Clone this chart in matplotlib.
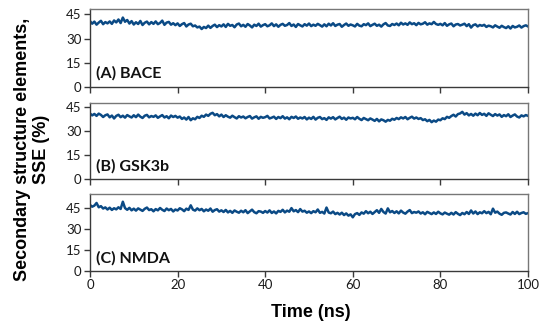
import numpy as np
import matplotlib
matplotlib.use("Agg")
import matplotlib.pyplot as plt

# time axis (ns), one value every 0.5 ns
time_ns = np.arange(0, 100.5, 0.5)

# SSE (%) values
sse_bace = [
    40.8, 39.2, 40.5, 38.6, 39.9, 41.0, 38.9, 40.2, 39.4, 40.6,
    39.1, 41.2, 40.0, 41.8, 39.6, 43.0, 40.4, 41.5, 39.3, 40.8,
    38.7, 40.1, 39.0, 40.9, 38.4, 39.8, 40.5, 38.8, 40.2, 39.1,
    40.6, 38.9, 39.7, 41.1, 38.5, 39.9, 40.3, 38.6, 39.5, 38.3,
    39.4, 37.8, 38.9, 39.6, 37.5, 38.7, 39.2, 37.6, 38.1, 36.9,
    37.4, 35.9, 37.2, 36.5, 38.0, 36.6, 37.8, 38.6, 37.1, 38.3,
    37.5, 38.8, 37.2, 39.1, 37.9, 38.4, 37.0, 38.7, 39.3, 37.6,
    38.5, 37.3, 39.0, 38.1, 36.9, 38.6, 37.8, 39.2, 37.4, 38.3,
    38.9, 37.6, 38.2, 39.4, 37.7, 38.8, 37.3, 38.5, 39.1, 37.9,
    38.4, 39.6, 37.8, 38.7, 37.2, 39.0, 38.2, 37.5, 38.9, 38.0,
    39.3, 37.7, 38.6, 37.9, 39.1, 38.3, 37.4, 38.8, 37.6, 39.2,
    38.1, 39.5, 37.8, 38.6, 39.0, 37.3, 38.4, 39.3, 37.9, 38.7,
    38.2, 37.5, 39.1, 38.0, 37.6, 38.9, 38.3, 39.4, 37.7, 38.5,
    39.2, 37.9, 38.6, 37.4, 38.8, 39.6, 38.1, 37.8, 39.0, 38.4,
    39.3, 38.2, 39.8, 38.7, 39.4, 38.5, 40.0, 38.9, 39.5, 38.3,
    39.7, 38.8, 39.2, 40.1, 38.6, 39.4, 38.9, 40.3, 39.0, 38.5,
    39.1, 38.2, 39.6, 37.9, 38.8, 39.3, 37.6, 38.7, 39.0, 38.1,
    38.6, 39.2, 37.7, 38.9, 36.8, 38.3, 38.8, 37.5, 38.4, 37.9,
    38.5, 37.2, 38.0, 37.6, 36.9, 38.2, 37.4, 36.7, 37.9, 37.1,
    36.5, 37.6, 36.2, 37.8, 36.9, 37.3, 38.1, 36.8, 37.7, 38.2,
    37.5,
]

sse_gsk3b = [
    41.0, 39.8, 40.7, 39.5, 40.9, 40.1, 38.8, 39.9, 40.4, 38.6,
    39.7, 37.9, 39.5, 40.2, 38.7, 39.6, 38.4, 40.0, 39.2, 38.5,
    39.9, 38.7, 40.3, 39.0, 38.2, 39.6, 40.1, 38.6, 39.4, 38.9,
    39.8, 38.3, 39.2, 40.0, 38.5, 39.3, 38.0, 39.7, 38.8, 39.5,
    38.4, 39.1, 37.6, 38.5, 37.2, 38.8, 36.8, 38.0, 37.4, 38.9,
    38.2, 39.6, 38.9, 40.3, 39.5, 40.8, 41.4, 39.9, 40.6, 39.2,
    40.3, 38.8, 39.9, 39.0, 38.4, 39.6, 38.7, 37.9, 39.3, 38.5,
    39.1, 38.0, 38.8, 39.4, 37.8, 38.6, 39.2, 37.7, 38.9, 38.3,
    38.7, 39.5, 37.9, 38.4, 39.0, 37.6, 38.8, 38.1, 39.3, 37.8,
    38.6, 37.4, 38.9, 38.2, 39.1, 37.7, 38.5, 37.9, 38.8, 37.3,
    38.4, 37.6, 38.9, 37.2, 38.3, 38.8, 37.5, 38.1, 37.0, 38.6,
    37.8, 38.7, 37.3, 38.2, 39.0, 37.6, 38.4, 37.1, 38.5, 37.9,
    38.3, 37.4, 38.8, 37.7, 36.9, 38.2, 37.5, 36.8, 37.9, 37.2,
    36.4, 37.6, 36.1, 37.3, 36.8, 35.9, 37.0, 36.5, 37.7, 37.1,
    38.2, 37.5, 38.6, 37.9, 38.8, 37.4, 38.3, 39.0, 37.8, 38.5,
    37.6, 38.1, 36.9, 37.4, 36.2, 37.0, 35.6, 36.6, 35.9, 37.2,
    36.8, 38.0, 37.5, 38.9, 38.3, 39.4, 40.2, 39.1, 40.6, 41.0,
    42.0, 40.3, 41.2, 39.8, 40.7, 39.6, 40.9, 39.9, 41.3, 40.1,
    40.8, 39.5, 41.1, 40.2, 39.4, 40.6, 39.7, 40.4, 38.9, 40.0,
    39.3, 40.5, 38.8, 39.7, 40.4, 39.1, 38.5, 39.8, 39.2, 40.0,
    39.5,
]

sse_nmda = [
    47.5, 46.2, 47.0, 48.9, 45.8, 46.6, 44.9, 45.7, 44.2, 45.5,
    43.9, 45.1, 44.3, 45.8, 44.6, 49.8, 45.2, 44.0, 45.4, 43.6,
    44.8, 43.4, 45.0, 44.1, 43.2, 44.7, 45.6, 43.8, 44.4, 42.9,
    44.5, 43.6, 45.3, 44.0, 43.1, 44.9, 43.7, 44.6, 42.8, 44.2,
    43.5, 45.1, 44.3, 43.0, 44.8, 43.9, 47.2, 44.1, 43.4, 45.0,
    43.7, 44.6, 42.9, 44.2, 43.3, 44.9, 42.6, 43.8, 44.4, 42.7,
    43.6, 42.4, 43.9, 42.1, 43.2, 41.8, 43.5, 42.6, 41.9, 43.3,
    42.2, 43.7, 41.6, 42.9, 44.1, 42.3, 41.5, 43.0, 42.7, 41.8,
    43.1, 42.0, 43.6, 41.7, 42.8, 41.4, 43.2, 42.5, 44.0, 42.1,
    43.4, 42.6, 45.2, 42.9, 43.8, 42.3, 44.5, 42.7, 43.3, 41.9,
    42.8, 41.6, 43.0, 42.2, 44.2, 41.8, 42.5, 41.3, 45.6, 42.0,
    41.5, 42.7, 40.9, 41.8, 40.6, 41.9, 40.2, 41.4, 39.8, 40.7,
    38.6, 40.9, 41.6, 40.3, 42.1, 41.2, 43.0, 41.5, 42.6, 41.0,
    42.3, 43.7, 41.8, 44.6, 42.4, 41.3, 45.0, 42.2, 43.1, 41.7,
    42.9, 41.4, 43.4, 42.0, 41.2, 42.7, 43.8, 41.6, 42.4, 41.9,
    42.8, 41.3, 42.2, 40.8, 42.5, 41.7, 40.9, 42.1, 41.0, 42.6,
    41.4, 40.7, 42.0, 41.2, 40.5, 41.8, 40.6, 42.3, 41.1, 40.2,
    41.7, 40.8, 42.4, 41.0, 43.5, 41.3, 42.8, 40.9, 42.2, 41.5,
    43.0, 41.6, 42.5, 40.8, 44.8, 41.9, 42.7, 41.2, 40.4, 41.8,
    42.1, 41.3, 40.6, 42.4, 41.0, 42.6, 40.9, 41.7, 42.2, 41.1,
    41.6,
]

panel_labels = ["(A) BACE", "(B) GSK3b", "(C) NMDA"]
y_tops = [48, 47.5, 55]
y_ticks = [0, 15, 30, 45]
x_ticks = [0, 20, 40, 60, 80, 100]

line_color = "#0b4a85"
tick_font = "Lato"

fig = plt.figure(figsize=(5.5, 3.25), dpi=100)

# axes boxes in figure fractions (left, bottom, width, height)
boxes = [
    (0.1636, 0.7323, 0.7964, 0.2385),
    (0.1636, 0.4477, 0.7964, 0.2354),
    (0.1636, 0.1662, 0.7964, 0.2354),
]

series = [sse_bace, sse_gsk3b, sse_nmda]

for i in range(3):
    ax = fig.add_axes(boxes[i])
    ax.plot(time_ns, series[i], color=line_color, lw=1.8)
    ax.set_xlim(0, 100)
    ax.set_ylim(0, y_tops[i])
    ax.set_yticks(y_ticks)
    ax.set_xticks(x_ticks)

    for side in ["left", "bottom"]:
        ax.spines[side].set_color("#3a3a3a")
        ax.spines[side].set_linewidth(1.0)
    for side in ["top", "right"]:
        ax.spines[side].set_color("#777777")
        ax.spines[side].set_linewidth(1.0)

    ax.tick_params(direction="out", length=4, width=1, color="#3a3a3a",
                   labelsize=9.5, labelcolor="#1a1a1a", pad=2)
    for lab in ax.get_yticklabels() + ax.get_xticklabels():
        lab.set_fontfamily(tick_font)

    if i < 2:
        ax.tick_params(labelbottom=False)

    ax.text(0.014, 0.116, panel_labels[i], transform=ax.transAxes,
            fontsize=11.5, fontweight="bold", family=tick_font,
            color="#111111", va="baseline", ha="left")

fig.text(0.566, 0.025, "Time (ns)", ha="center", va="baseline",
         fontsize=13, fontweight="bold", family="Liberation Sans")
fig.text(0.058, 0.54, "Secondary structure elements,\nSSE (%)",
         rotation=90, ha="center", va="center", multialignment="center",
         fontsize=13, fontweight="bold", family="Liberation Sans",
         linespacing=1.2)

fig.savefig("out.png", dpi=100)
